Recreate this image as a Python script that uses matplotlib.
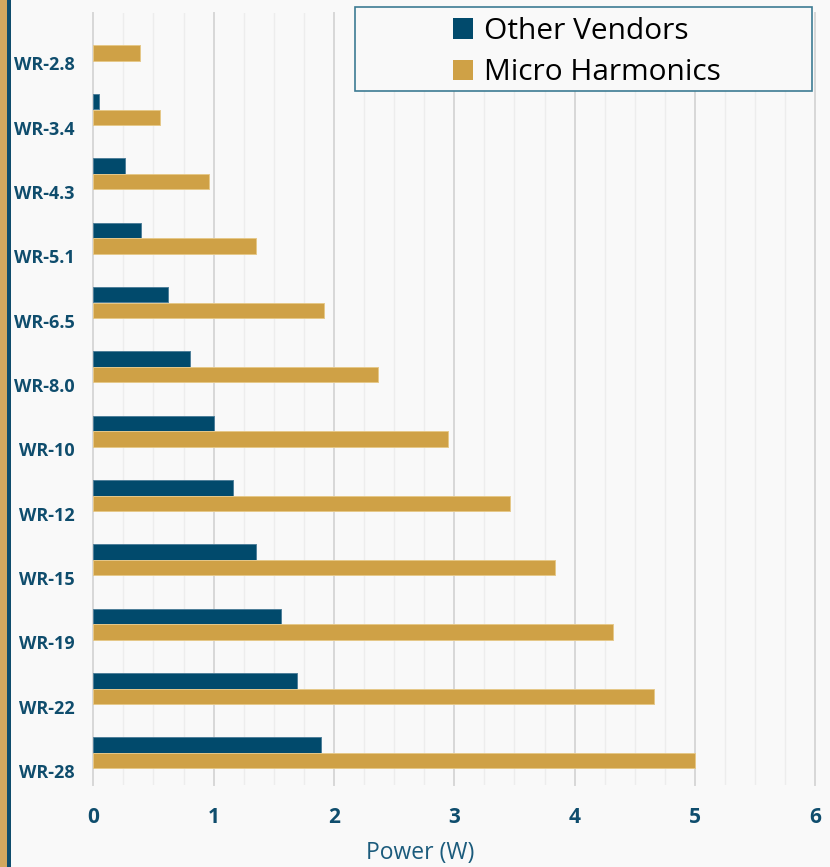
import matplotlib
matplotlib.use("Agg")
import matplotlib.pyplot as plt
import numpy as np
from matplotlib.patches import Rectangle, Patch
from matplotlib.transforms import ScaledTranslation
from matplotlib.ticker import MultipleLocator

categories = ["WR-2.8", "WR-3.4", "WR-4.3", "WR-5.1", "WR-6.5", "WR-8.0",
              "WR-10", "WR-12", "WR-15", "WR-19", "WR-22", "WR-28"]
other_vendors = [0.0, 0.05, 0.26, 0.40, 0.62, 0.80, 1.00, 1.16, 1.35, 1.56, 1.69, 1.89]
micro_harmonics = [0.385, 0.555, 0.96, 1.35, 1.92, 2.37, 2.945, 3.46, 3.84, 4.32, 4.66, 5.0]
x_ticks = [0, 1, 2, 3, 4, 5, 6]
series_names = ["Other Vendors", "Micro Harmonics"]

BG = "#f9f9f9"
DARK = "#014a6c"
GOLD = "#cfa146"
TXT = "#0f4d6d"

W, H = 830, 867
fig = plt.figure(figsize=(W / 100, H / 100), dpi=100, facecolor=BG)
ax = fig.add_axes([93.3 / W, 1 - 785 / H, (815.3 - 93.3) / W, (785 - 13) / H])
ax.set_facecolor(BG)

y = np.arange(len(categories))
h = 0.24
ax.barh(y - h / 2, other_vendors, height=h, color=DARK, edgecolor="#4f7f9a",
        linewidth=[0.7 if v > 0 else 0 for v in other_vendors], zorder=3)
ax.barh(y + h / 2, micro_harmonics, height=h, color=GOLD, edgecolor="#e6c889",
        linewidth=[0.7 if v > 0 else 0 for v in micro_harmonics], zorder=3)

ax.set_xlim(0, 6)
ax.set_ylim(len(categories) - 0.5, -0.5)
ax.set_xticks(x_ticks)
ax.set_xticklabels([str(t) for t in x_ticks])
ax.xaxis.set_minor_locator(MultipleLocator(0.25))
ax.grid(axis="x", which="major", color="#d8d8d8", linewidth=1.4, zorder=0)
ax.grid(axis="x", which="minor", color="#ededed", linewidth=1.0, zorder=0)
ax.grid(axis="y", visible=False)
for gl in ax.get_xgridlines():
    gl.set_clip_on(False)
ax.set_axisbelow(True)
for s in ax.spines.values():
    s.set_visible(False)

ax.set_yticks(y)
ax.set_yticklabels(categories)
ax.tick_params(axis="y", length=0, pad=13.5, labelcolor=TXT)
ax.tick_params(axis="x", which="both", length=0, pad=16, labelcolor=TXT)
for lab in ax.get_yticklabels():
    lab.set_fontfamily("Open Sans")
    lab.set_fontweight("bold")
    lab.set_fontsize(13)
    lab.set_transform(lab.get_transform() + ScaledTranslation(0, -13 / 72, fig.dpi_scale_trans))
for lab in ax.get_xticklabels():
    lab.set_fontfamily("Open Sans")
    lab.set_fontweight("bold")
    lab.set_fontsize(15)

fig.text(420 / W, 1 - 853 / H, "Power (W)", ha="center", va="center",
         fontsize=16.5, color="#1b5b7c", family="Open Sans")

# left border strips
fig.patches.append(Rectangle((0, 0), 7 / W, 1, transform=fig.transFigure,
                             facecolor="#d3a85f", edgecolor="none", zorder=5))
fig.patches.append(Rectangle((7 / W, 0), 3.5 / W, 1, transform=fig.transFigure,
                             facecolor="#0f4d6d", edgecolor="none", zorder=5))

# legend frame
fig.patches.append(Rectangle((355 / W, 1 - 91 / H), (812 - 355) / W, (91 - 7) / H,
                             transform=fig.transFigure, facecolor=BG,
                             edgecolor="#3d7c93", linewidth=1.2, zorder=5))
handles = [Patch(facecolor=DARK, edgecolor="none"), Patch(facecolor=GOLD, edgecolor="none")]
leg = fig.legend(handles, series_names, loc="center", bbox_to_anchor=(587 / W, 1 - 52 / H),
                 frameon=False, prop={"family": "Open Sans", "size": 21.5},
                 handlelength=0.68, handleheight=0.68, handletextpad=0.35,
                 labelspacing=0.42, borderpad=0)
leg.set_zorder(6)

fig.savefig("out.png", dpi=100, facecolor=BG)
